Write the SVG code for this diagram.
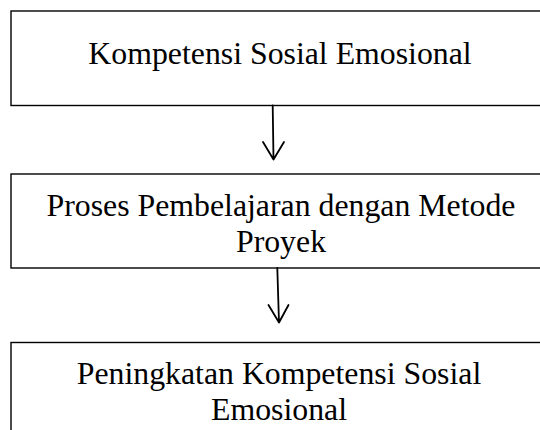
<svg xmlns="http://www.w3.org/2000/svg" width="540" height="430" viewBox="0 0 540 430">
<style>
.box{fill:#fff;stroke:#000;stroke-width:1.4}
.t{font-family:"Liberation Serif","Times New Roman",serif;font-size:31.8px;fill:#000;text-anchor:middle}
.c{fill:none;stroke:#000;stroke-width:1.8;stroke-linecap:round;stroke-linejoin:round}
</style>
<rect width="540" height="430" fill="#fff"/>
<g id="node1">
<rect class="box" x="11" y="11" width="540" height="94.5"/>
<text class="t" x="280" y="64">Kompetensi Sosial Emosional</text>
</g>
<g id="node2">
<rect class="box" x="11" y="174" width="540" height="94"/>
<text class="t" x="281" y="215.5">Proses Pembelajaran dengan Metode</text>
<text class="t" x="281" y="252">Proyek</text>
</g>
<g id="node3">
<rect class="box" x="11" y="342.5" width="540" height="100"/>
<text class="t" x="279" y="384">Peningkatan Kompetensi Sosial</text>
<text class="t" x="279" y="420">Emosional</text>
</g>
<g id="connectors">
<path class="c" d="M272.7 105.5 L273.5 159.5 M263 142 L273.5 159.5 L284 142"/>
<path class="c" d="M277.3 268 L279 322.5 M268.5 305 L279 322.5 L288.5 305"/>
</g>
</svg>
